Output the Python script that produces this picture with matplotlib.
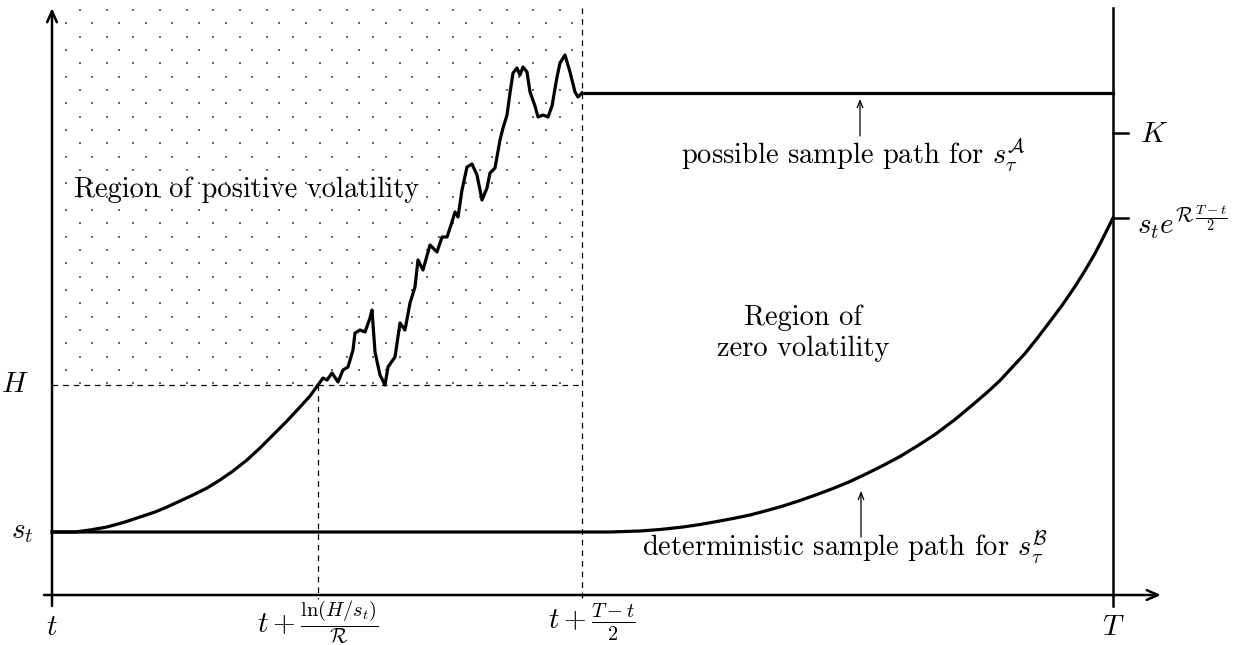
import matplotlib
matplotlib.use("Agg")
import matplotlib.pyplot as plt
import numpy as np

plt.rcParams['mathtext.fontset'] = 'cm'
plt.rcParams['font.family'] = 'serif'
plt.rcParams['font.serif'] = ['cmr10', 'DejaVu Serif']
plt.rcParams['axes.formatter.use_mathtext'] = True

# key levels / times (picture coordinates, y grows downward)
x_t, x_hit, x_half, x_T = 52, 318, 582, 1113
y_top, y_axis = 8, 595
y_st, y_H, y_K, y_end, y_cap = 532, 385, 133, 218, 93

# deterministic rise from s_t to H
exp_x = [52, 75, 90, 107, 125, 140, 155, 167, 180, 193, 207, 220, 233, 247, 260, 273, 287, 300, 310, 318]
exp_y = [532, 532, 530, 527, 522, 517, 512, 507, 501, 495, 488, 480, 471, 460, 448, 435, 421, 407, 396, 385]

# volatile part of path A
vol_x = [318, 323, 327, 332, 338, 343, 348, 353, 355, 360, 365, 370, 372, 375, 380,
         385, 388, 395, 400, 405, 410, 415, 418, 423, 430, 437, 442, 447, 452, 455,
         458, 462, 467, 472, 477, 482, 487, 490, 495, 500, 503, 507, 510, 513, 517,
         520, 523, 527, 530, 535, 538, 543, 548, 552, 557, 560, 565, 570, 575, 578, 582]
vol_y = [385, 378, 380, 373, 382, 370, 367, 350, 333, 330, 332, 318, 310, 352, 375,
         385, 367, 357, 323, 330, 303, 287, 260, 270, 245, 252, 237, 237, 222, 212,
         217, 190, 167, 164, 175, 200, 188, 173, 168, 140, 128, 115, 93, 73, 68,
         75, 67, 72, 92, 106, 117, 115, 117, 106, 77, 63, 55, 72, 92, 97, 93]

# path B: flat then rising to s_t e^{R(T-t)/2}
detB_x = [52, 610, 640, 660, 683, 700, 717, 733, 750, 767, 783, 800, 817, 833, 850, 867,
          883, 900, 918, 935, 955, 973, 987, 1000, 1012, 1025, 1037, 1050, 1062, 1075,
          1085, 1095, 1104, 1113]
detB_y = [532, 532, 531, 529.5, 527, 524.5, 521.5, 518.5, 515, 510.5, 506, 500.5, 494.5,
          488.5, 481.5, 473.5, 465.5, 456.5, 445.5, 434.5, 419.5, 404.5, 392.5, 380.5,
          367.5, 353.5, 338.5, 321.5, 305.5, 286.5, 270.5, 253.5, 236, 218]

fig = plt.figure(figsize=(12.47, 6.45), dpi=100)
ax = fig.add_axes([0, 0, 1, 1])
ax.set_xlim(0, 1247)
ax.set_ylim(645, 0)
ax.axis('off')

# dotted texture for positive volatility region
for k, yy in enumerate(np.arange(10, y_H - 1, 40 / 3)):
    start = 80 if k % 2 == 0 else 65.7
    xs = np.arange(start, x_half - 5, 80 / 3)
    ax.scatter(xs, np.full_like(xs, yy), s=2.5, marker='s', color='#666666', lw=0)

# axes and frame lines
arr = dict(arrowstyle='->,head_length=0.8,head_width=0.35', lw=1.8, color='black',
           shrinkA=0, shrinkB=0)
ax.annotate('', xy=(x_t, y_top), xytext=(x_t, 606), arrowprops=arr)
ax.annotate('', xy=(1161, y_axis), xytext=(44, y_axis), arrowprops=arr)
ax.plot([x_T, x_T], [y_top, 606], color='black', lw=1.8)
ax.plot([x_T, 1128], [y_K, y_K], color='black', lw=1.8)
ax.plot([x_T, 1128], [y_end, y_end], color='black', lw=1.8)

# dashed guide lines
dash = dict(color='black', lw=0.9, dashes=(4.5, 4))
ax.plot([x_half, x_half], [y_top, 599], **dash)
ax.plot([x_t, x_half], [y_H, y_H], **dash)
ax.plot([x_hit, x_hit], [y_H, 599], **dash)

# sample paths
ax.plot(exp_x, exp_y, color='black', lw=2.3, solid_capstyle='round')
ax.plot(vol_x, vol_y, color='black', lw=2.3, solid_joinstyle='round')
ax.plot([x_half, x_T], [y_cap, y_cap], color='black', lw=2.3)
ax.plot(detB_x, detB_y, color='black', lw=2.3, solid_joinstyle='round')

# small pointer arrows
ptr = dict(arrowstyle='->,head_length=0.5,head_width=0.2', lw=0.9, color='black',
           shrinkA=0, shrinkB=0)
ax.annotate('', xy=(860, 99), xytext=(860, 136), arrowprops=ptr)
ax.annotate('', xy=(861, 491), xytext=(861, 537), arrowprops=ptr)

fs = 20.5
ax.text(247, 190, 'Region of positive volatility', fontsize=fs, ha='center', va='center')
ax.text(803, 333, 'Region of\nzero volatility', fontsize=fs, ha='center', va='center',
        linespacing=1.25)
ax.text(853, 155, r'possible sample path for $s_\tau^{\mathcal{A}}$', fontsize=fs,
        ha='center', va='center')
ax.text(845, 548, r'deterministic sample path for $s_\tau^{\mathcal{B}}$', fontsize=fs,
        ha='center', va='center')

# axis labels
lf = 21
ax.text(15, 385, r'$H$', fontsize=lf, ha='center', va='center')
ax.text(22, 532, r'$s_t$', fontsize=lf, ha='center', va='center')
ax.text(1140, 135, r'$K$', fontsize=lf, ha='left', va='center')
ax.text(1137, 222, r'$s_t e^{\mathcal{R}\,\frac{T-t}{2}}$', fontsize=lf, ha='left', va='center')
ax.text(x_t, 628, r'$t$', fontsize=lf, ha='center', va='center')
ax.text(x_T, 628, r'$T$', fontsize=lf, ha='center', va='center')
ax.text(x_hit, 622, r'$t + \frac{\ln(H/s_t)}{\mathcal{R}}$', fontsize=lf, ha='center', va='center')
ax.text(592, 622, r'$t + \frac{T-t}{2}$', fontsize=lf, ha='center', va='center')

fig.savefig('out.png', dpi=100)
